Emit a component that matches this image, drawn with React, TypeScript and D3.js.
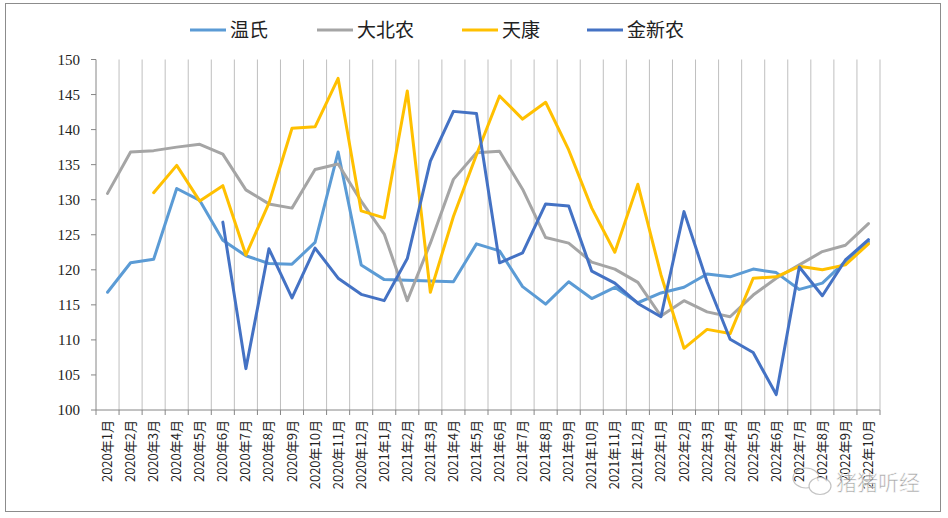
import { useMemo } from "react";
import * as d3 from "d3";

const months = [
  "2020年1月", "2020年2月", "2020年3月", "2020年4月", "2020年5月", "2020年6月",
  "2020年7月", "2020年8月", "2020年9月", "2020年10月", "2020年11月", "2020年12月",
  "2021年1月", "2021年2月", "2021年3月", "2021年4月", "2021年5月", "2021年6月",
  "2021年7月", "2021年8月", "2021年9月", "2021年10月", "2021年11月", "2021年12月",
  "2022年1月", "2022年2月", "2022年3月", "2022年4月", "2022年5月", "2022年6月",
  "2022年7月", "2022年8月", "2022年9月", "2022年10月",
];

const wenshi = [
  116.8, 121.0, 121.5, 131.6, 129.9, 124.2, 122.0, 120.9, 120.8, 123.9, 136.8, 120.7,
  118.6, 118.5, 118.4, 118.3, 123.7, 122.7, 117.6, 115.1, 118.3, 115.9, 117.5, 115.3,
  116.7, 117.5, 119.4, 119.0, 120.1, 119.6, 117.2, 118.1, 121.2, 124.0,
];

const dabeinong = [
  130.9, 136.8, 137.0, 137.5, 137.9, 136.5, 131.4, 129.4, 128.8, 134.3, 135.1, 129.8,
  125.1, 115.6, 123.8, 132.9, 136.7, 136.9, 131.5, 124.6, 123.8, 121.1, 120.1, 118.2,
  113.4, 115.6, 114.0, 113.3, 116.4, 118.8, 120.7, 122.6, 123.5, 126.6,
];

const tiankang: (number | null)[] = [
  null, null, 131.0, 134.9, 129.8, 132.0, 122.1, 129.5, 140.2, 140.4, 147.3, 128.4,
  127.4, 145.5, 116.8, 127.6, 136.4, 144.8, 141.5, 143.9, 137.1, 128.8, 122.5, 132.2,
  119.3, 108.8, 111.5, 110.9, 118.8, 119.0, 120.5, 120.0, 120.7, 123.7,
];

const jinxinnong: (number | null)[] = [
  null, null, null, null, null, 126.8, 105.9, 123.0, 116.0, 123.1, 118.8, 116.5,
  115.6, 121.6, 135.5, 142.6, 142.3, 121.0, 122.4, 129.4, 129.1, 119.8, 118.1, 115.2,
  113.3, 128.3, 118.3, 110.1, 108.2, 102.2, 120.4, 116.3, 121.4, 124.3,
];

const yTicks = [100, 105, 110, 115, 120, 125, 130, 135, 140, 145, 150];

const series = [
  { name: "温氏", values: wenshi as (number | null)[], color: "#5B9BD5", legendX: 190 },
  { name: "大北农", values: dabeinong as (number | null)[], color: "#A5A5A5", legendX: 317 },
  { name: "天康", values: tiankang, color: "#FFC000", legendX: 462 },
  { name: "金新农", values: jinxinnong, color: "#4472C4", legendX: 587 },
];

export default function App() {
  const width = 948;
  const height = 518;
  const margin = { top: 59.5, right: 68, bottom: 108, left: 96 };

  const { x, y } = useMemo(() => {
    const x = d3.scaleBand<string>().domain(months).range([margin.left, width - margin.right]);
    const y = d3.scaleLinear().domain([100, 150]).range([height - margin.bottom, margin.top]);
    return { x, y };
  }, []);

  const line = d3
    .line<number | null>()
    .defined((v) => v != null)
    .x((_, i) => (x(months[i]) ?? 0) + x.bandwidth() / 2)
    .y((v) => y(v as number));

  const bottom = y(100);
  const boundaries = months.map((m) => x(m) ?? 0).concat([width - margin.right]);

  return (
    <div style={{ position: "absolute", left: 0, top: 0 }}>
      <svg width={width} height={height} viewBox={`0 0 ${width} ${height}`} style={{ display: "block", background: "#fff" }}>
        <rect x={5.5} y={3.5} width={935} height={508} fill="#fff" stroke="#8c8c8c" strokeWidth={1} />

        {boundaries.slice(1).map((bx, i) => (
          <line key={`g${i}`} x1={bx} x2={bx} y1={y(150)} y2={bottom} stroke="#bfbfbf" strokeWidth={1} />
        ))}

        <line x1={margin.left} x2={margin.left} y1={y(150)} y2={bottom} stroke="#868686" />
        {yTicks.map((t) => (
          <g key={t}>
            <line x1={margin.left - 5} x2={margin.left} y1={y(t)} y2={y(t)} stroke="#868686" />
            <text x={80} y={y(t) + 5} textAnchor="end" fontSize="15" fontFamily="'Liberation Serif', serif" fill="#222">{t}</text>
          </g>
        ))}

        <line x1={margin.left} x2={width - margin.right} y1={bottom} y2={bottom} stroke="#868686" />
        {boundaries.map((bx, i) => (
          <line key={`t${i}`} x1={bx} x2={bx} y1={bottom} y2={bottom + 5} stroke="#868686" />
        ))}
        {months.map((m) => {
          const cx = (x(m) ?? 0) + x.bandwidth() / 2;
          return (
            <text key={m} transform={`translate(${cx + 4.5}, ${bottom + 10}) rotate(-90)`} textAnchor="end" fontSize="13" fontFamily="'Noto Sans CJK SC', sans-serif" fill="#222">{m}</text>
          );
        })}

        {series.map((s) => (
          <path key={s.name} d={line(s.values) ?? ""} fill="none" stroke={s.color} strokeWidth={3} strokeLinejoin="round" strokeLinecap="round" />
        ))}

        {series.map((s) => (
          <g key={`l${s.name}`} transform={`translate(${s.legendX}, 30)`}>
            <line x1={0} x2={36} y1={0} y2={0} stroke={s.color} strokeWidth={3} />
            <text x={40} y={7} fontSize="19" fontFamily="'Noto Sans CJK SC', sans-serif" fill="#222">{s.name}</text>
          </g>
        ))}

        <g opacity={0.8}>
          <ellipse cx={806} cy={478} rx={13} ry={10} fill="none" stroke="#b5b5b5" strokeWidth={1.2} />
          <ellipse cx={820} cy={486} rx={11} ry={8.5} fill="#fff" stroke="#b5b5b5" strokeWidth={1.2} />
          <text x={878} y={490} textAnchor="middle" fontSize="21" fontFamily="'Noto Sans CJK SC', sans-serif" fill="#8f8f8f" stroke="#fff" strokeWidth={0.6}>猪猪听经</text>
        </g>
      </svg>
    </div>
  );
}
